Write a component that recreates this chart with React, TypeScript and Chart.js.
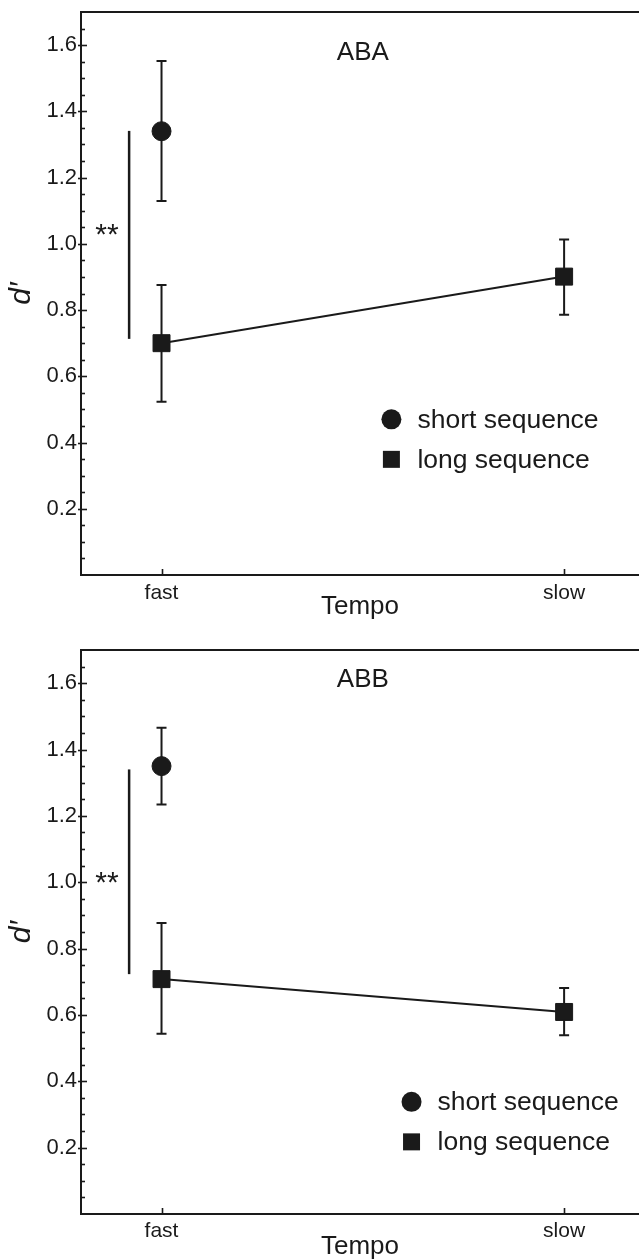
import React, { useEffect, useRef } from 'react';
import { Chart, registerables } from 'chart.js';

Chart.register(...registerables);

// ---------- data ----------
const categories = ['fast', 'slow'];
const categoryPositions = [0, 1];
const seriesNames = ['short sequence', 'long sequence'];
const yTickLabels = ['0.2', '0.4', '0.6', '0.8', '1.0', '1.2', '1.4', '1.6'];
const xTitle = 'Tempo';
const yTitle = 'd′';

// panel ABA
const abaTitle = 'ABA';
const abaShortMean = [1.34];
const abaShortUpper = [1.552];
const abaShortLower = [1.129];
const abaLongMean = [0.70, 0.901];
const abaLongUpper = [0.876, 1.013];
const abaLongLower = [0.523, 0.786];
const abaSigRange = [1.341, 0.713];
const abaSigText = '**';

// panel ABB
const abbTitle = 'ABB';
const abbShortMean = [1.35];
const abbShortUpper = [1.466];
const abbShortLower = [1.234];
const abbLongMean = [0.708, 0.609];
const abbLongUpper = [0.877, 0.681];
const abbLongLower = [0.543, 0.539];
const abbSigRange = [1.34, 0.723];
const abbSigText = '**';

// ---------- style ----------
const INK = '#1a1a1a';
const FONT = "'Liberation Sans', Arial, Helvetica, sans-serif";

const isMajor = (v: number) => {
  const k = Math.round(v / 0.2);
  return Math.abs(v - k * 0.2) < 1e-6 && k >= 1 && k <= 8;
};

const decorPlugin = {
  id: 'decor',
  beforeDatasetsDraw(chart: any, _args: any, opts: any) {
    const { ctx, chartArea } = chart;
    const xs = chart.scales.x;
    const ys = chart.scales.y;
    ctx.save();
    ctx.strokeStyle = INK;
    ctx.lineWidth = 2;
    // top frame line
    ctx.beginPath();
    ctx.moveTo(chartArea.left - 1, chartArea.top);
    ctx.lineTo(chartArea.right, chartArea.top);
    ctx.stroke();
    // inward y ticks
    ctx.lineWidth = 1.6;
    ys.ticks.forEach((t: any) => {
      if (t.value <= 0.001 || t.value >= 1.699) return;
      const py = Math.round(ys.getPixelForValue(t.value)) + 0.5;
      const major = isMajor(t.value);
      ctx.beginPath();
      ctx.moveTo(chartArea.left - (major ? 3 : 0), py);
      ctx.lineTo(chartArea.left + (major ? 6 : 4), py);
      ctx.stroke();
    });
    // inward x ticks
    xs.ticks.forEach((t: any) => {
      const px = Math.round(xs.getPixelForValue(t.value)) + 0.5;
      ctx.beginPath();
      ctx.moveTo(px, chartArea.bottom);
      ctx.lineTo(px, chartArea.bottom - 6);
      ctx.stroke();
    });
    // error bars
    ctx.lineWidth = 2;
    chart.data.datasets.forEach((ds: any) => {
      ds.data.forEach((p: any, i: number) => {
        const px = xs.getPixelForValue(p.x);
        const yu = ys.getPixelForValue(ds.errUpper[i]);
        const yl = ys.getPixelForValue(ds.errLower[i]);
        ctx.beginPath();
        ctx.moveTo(px, yu);
        ctx.lineTo(px, yl);
        ctx.moveTo(px - 5, yu);
        ctx.lineTo(px + 5, yu);
        ctx.moveTo(px - 5, yl);
        ctx.lineTo(px + 5, yl);
        ctx.stroke();
      });
    });
    // significance bar
    const fx = xs.getPixelForValue(categoryPositions[0]);
    ctx.lineWidth = 2.5;
    ctx.beginPath();
    ctx.moveTo(fx + opts.sigBarOffset, ys.getPixelForValue(opts.sigRange[0]));
    ctx.lineTo(fx + opts.sigBarOffset, ys.getPixelForValue(opts.sigRange[1]));
    ctx.stroke();
    ctx.restore();
  },
  afterDatasetsDraw(chart: any, _args: any, opts: any) {
    const { ctx } = chart;
    const xs = chart.scales.x;
    const ys = chart.scales.y;
    ctx.save();
    ctx.fillStyle = INK;
    // panel title
    ctx.font = `26px ${FONT}`;
    ctx.textAlign = 'center';
    ctx.textBaseline = 'middle';
    ctx.fillText(opts.title, xs.getPixelForValue(opts.titleX), ys.getPixelForValue(opts.titleY));
    // stars
    const fx = xs.getPixelForValue(categoryPositions[0]);
    ctx.font = `30px ${FONT}`;
    ctx.textBaseline = 'alphabetic';
    ctx.fillText(opts.sigText, fx + opts.sigTextOffset, ys.getPixelForValue(opts.sigTextY));
    // legend
    const lx = xs.getPixelForValue(opts.legendX);
    ctx.font = `26.5px ${FONT}`;
    ctx.textAlign = 'left';
    ctx.textBaseline = 'middle';
    chart.data.datasets.forEach((ds: any, i: number) => {
      const ly = ys.getPixelForValue(opts.legendY) + i * opts.legendGap;
      ctx.beginPath();
      if (ds.pointStyle === 'circle') {
        ctx.arc(lx, ly, 10, 0, Math.PI * 2);
      } else {
        ctx.rect(lx - 8.5, ly - 8.5, 17, 17);
      }
      ctx.fill();
      ctx.fillText(ds.label, lx + 26, ly + 1);
    });
    ctx.restore();
  },
};

type PanelCfg = {
  title: string;
  shortMean: number[];
  shortUpper: number[];
  shortLower: number[];
  longMean: number[];
  longUpper: number[];
  longLower: number[];
  sigRange: number[];
  sigText: string;
  titleY: number;
  sigTextY: number;
  legendX: number;
  legendY: number;
  padTop: number;
  xHeight: number;
  xTitlePad: number;
  tickPad: number;
};

function makeConfig(p: PanelCfg): any {
  const yTickValues = Array.from({ length: 35 }, (_, i) => +(i * 0.05).toFixed(2));
  return {
    type: 'scatter',
    data: {
      datasets: [
        {
          label: seriesNames[0],
          data: p.shortMean.map((y, i) => ({ x: categoryPositions[i], y })),
          errUpper: p.shortUpper,
          errLower: p.shortLower,
          pointStyle: 'circle',
          pointRadius: 9.5,
          pointBorderWidth: 1,
          pointBackgroundColor: INK,
          pointBorderColor: INK,
          showLine: false,
        },
        {
          label: seriesNames[1],
          data: p.longMean.map((y, i) => ({ x: categoryPositions[i], y })),
          errUpper: p.longUpper,
          errLower: p.longLower,
          pointStyle: 'rect',
          pointRadius: 12,
          pointBorderWidth: 1,
          pointBackgroundColor: INK,
          pointBorderColor: INK,
          showLine: true,
          borderColor: INK,
          borderWidth: 2,
        },
      ],
    },
    options: {
      responsive: false,
      animation: false,
      events: [],
      layout: { autoPadding: false, padding: { top: p.padTop, left: 0, right: 0, bottom: 0 } },
      plugins: {
        legend: { display: false },
        tooltip: { enabled: false },
        decor: {
          title: p.title,
          titleX: 0.5,
          titleY: p.titleY,
          sigRange: p.sigRange,
          sigBarOffset: -32.4,
          sigText: p.sigText,
          sigTextOffset: -54.5,
          sigTextY: p.sigTextY,
          legendX: p.legendX,
          legendY: p.legendY,
          legendGap: 40,
        },
      },
      scales: {
        x: {
          type: 'linear',
          position: 'bottom',
          min: -0.2,
          max: 1.186,
          afterBuildTicks: (s: any) => {
            s.ticks = categoryPositions.map((v) => ({ value: v }));
          },
          afterFit: (s: any) => {
            s.height = p.xHeight;
            s.paddingLeft = 0;
            s.paddingRight = 0;
          },
          ticks: {
            autoSkip: false,
            maxRotation: 0,
            padding: p.tickPad,
            color: INK,
            font: { size: 21, family: FONT },
            callback: (v: number) => {
              const idx = categoryPositions.indexOf(v);
              return idx >= 0 ? categories[idx] : '';
            },
          },
          grid: { display: false, drawTicks: false },
          border: { display: true, color: INK, width: 2 },
          title: {
            display: true,
            text: xTitle,
            color: INK,
            font: { size: 26, family: FONT },
            padding: { top: 0, bottom: p.xTitlePad },
          },
        },
        y: {
          type: 'linear',
          min: 0,
          max: 1.7,
          afterBuildTicks: (s: any) => {
            s.ticks = yTickValues.map((v) => ({ value: v }));
          },
          afterFit: (s: any) => {
            s.width = 81;
            s.paddingTop = 0;
            s.paddingBottom = 0;
          },
          ticks: {
            autoSkip: false,
            padding: 4,
            color: INK,
            font: { size: 22, family: FONT },
            callback: (v: number) => {
              const k = Math.round(v / 0.2);
              return isMajor(v) ? yTickLabels[k - 1] : '';
            },
          },
          grid: { display: false, drawTicks: false },
          border: { display: true, color: INK, width: 2 },
          title: {
            display: true,
            text: yTitle,
            color: INK,
            font: { size: 30, style: 'italic', family: FONT },
            padding: { top: 4, bottom: 0 },
          },
        },
      },
    },
    plugins: [decorPlugin],
  };
}

const panels: PanelCfg[] = [
  {
    title: abaTitle,
    shortMean: abaShortMean,
    shortUpper: abaShortUpper,
    shortLower: abaShortLower,
    longMean: abaLongMean,
    longUpper: abaLongUpper,
    longLower: abaLongLower,
    sigRange: abaSigRange,
    sigText: abaSigText,
    titleY: 1.577,
    sigTextY: 1.0,
    legendX: 0.571,
    legendY: 0.47,
    padTop: 12,
    xHeight: 55,
    xTitlePad: 7.4,
    tickPad: 5.4,
  },
  {
    title: abbTitle,
    shortMean: abbShortMean,
    shortUpper: abbShortUpper,
    shortLower: abbShortLower,
    longMean: abbLongMean,
    longUpper: abbLongUpper,
    longLower: abbLongLower,
    sigRange: abbSigRange,
    sigText: abbSigText,
    titleY: 1.609,
    sigTextY: 0.972,
    legendX: 0.621,
    legendY: 0.338,
    padTop: 20,
    xHeight: 46,
    xTitlePad: -2.3,
    tickPad: 5,
  },
];

function Panel({ cfg }: { cfg: PanelCfg }) {
  const ref = useRef<HTMLCanvasElement | null>(null);
  useEffect(() => {
    if (!ref.current) return;
    const chart = new Chart(ref.current, makeConfig(cfg));
    return () => chart.destroy();
  }, [cfg]);
  return <canvas ref={ref} width={639} height={630} style={{ display: 'block', width: 639, height: 630 }} />;
}

export default function App() {
  return (
    <div
      style={{
        position: 'absolute',
        left: 0,
        top: 0,
        width: 639,
        height: 1260,
        overflow: 'hidden',
        background: '#fff',
      }}
    >
      {panels.map((p) => (
        <Panel key={p.title} cfg={p} />
      ))}
    </div>
  );
}
